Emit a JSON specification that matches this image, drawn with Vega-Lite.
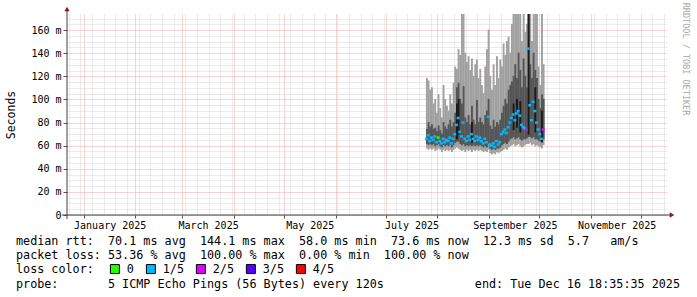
{
  "$schema": "https://vega.github.io/schema/vega-lite/v6.json",
  "width": 600,
  "height": 201,
  "autosize": {"type": "none"},
  "padding": {"left": 67, "top": 14, "right": 30, "bottom": 82},
  "background": "#ffffff",
  "config": {"view": {"stroke": null}, "font": "DejaVu Sans Mono"},
  "datasets": {
    "ping": [
      {"d":"2025-07-25T00:00:00","lo":58,"dlo":62,"med":66,"dhi":74,"hi":118,"loss":"1/5"},
      {"d":"2025-07-26T00:00:00","lo":57,"dlo":61,"med":69,"dhi":80,"hi":116,"loss":"1/5"},
      {"d":"2025-07-27T00:00:00","lo":58,"dlo":62,"med":64,"dhi":76,"hi":108,"loss":"1/5"},
      {"d":"2025-07-28T00:00:00","lo":57,"dlo":61,"med":67,"dhi":78,"hi":110,"loss":"1/5"},
      {"d":"2025-07-29T00:00:00","lo":58,"dlo":62,"med":65,"dhi":74,"hi":96,"loss":"1/5"},
      {"d":"2025-07-30T00:00:00","lo":56,"dlo":60,"med":68,"dhi":75,"hi":100,"loss":"1/5"},
      {"d":"2025-07-31T00:00:00","lo":57,"dlo":61,"med":63,"dhi":72,"hi":88,"loss":"1/5"},
      {"d":"2025-08-01T00:00:00","lo":58,"dlo":62,"med":67,"dhi":77,"hi":104,"loss":"0"},
      {"d":"2025-08-02T00:00:00","lo":57,"dlo":60,"med":64,"dhi":73,"hi":92,"loss":"1/5"},
      {"d":"2025-08-03T00:00:00","lo":55,"dlo":59,"med":62,"dhi":70,"hi":84,"loss":"1/5"},
      {"d":"2025-08-04T00:00:00","lo":57,"dlo":61,"med":66,"dhi":80,"hi":112,"loss":"1/5"},
      {"d":"2025-08-05T00:00:00","lo":56,"dlo":60,"med":63,"dhi":76,"hi":100,"loss":"1/5"},
      {"d":"2025-08-06T00:00:00","lo":57,"dlo":61,"med":65,"dhi":74,"hi":94,"loss":"1/5"},
      {"d":"2025-08-07T00:00:00","lo":56,"dlo":60,"med":64,"dhi":78,"hi":90,"loss":"1/5"},
      {"d":"2025-08-08T00:00:00","lo":57,"dlo":61,"med":67,"dhi":82,"hi":104,"loss":"1/5"},
      {"d":"2025-08-09T00:00:00","lo":55,"dlo":59,"med":62,"dhi":76,"hi":96,"loss":"1/5"},
      {"d":"2025-08-10T00:00:00","lo":57,"dlo":61,"med":66,"dhi":80,"hi":114,"loss":"1/5"},
      {"d":"2025-08-11T00:00:00","lo":58,"dlo":63,"med":70,"dhi":88,"hi":128,"loss":"1/5"},
      {"d":"2025-08-12T00:00:00","lo":59,"dlo":64,"med":78,"dhi":110,"hi":126,"blo":66,"bhi":96,"loss":"1/5"},
      {"d":"2025-08-13T00:00:00","lo":58,"dlo":64,"med":84,"dhi":114,"hi":143,"blo":70,"bhi":100,"loss":"1/5"},
      {"d":"2025-08-14T00:00:00","lo":57,"dlo":62,"med":72,"dhi":100,"hi":138,"loss":"1/5"},
      {"d":"2025-08-15T00:00:00","lo":56,"dlo":61,"med":68,"dhi":96,"hi":180,"loss":"1/5"},
      {"d":"2025-08-16T00:00:00","lo":57,"dlo":62,"med":80,"dhi":111,"hi":180,"loss":"1/5"},
      {"d":"2025-08-17T00:00:00","lo":55,"dlo":60,"med":66,"dhi":84,"hi":140,"loss":"1/5"},
      {"d":"2025-08-18T00:00:00","lo":57,"dlo":61,"med":64,"dhi":80,"hi":132,"loss":"1/5"},
      {"d":"2025-08-19T00:00:00","lo":56,"dlo":60,"med":68,"dhi":86,"hi":137,"loss":"1/5"},
      {"d":"2025-08-20T00:00:00","lo":57,"dlo":61,"med":65,"dhi":78,"hi":125,"loss":"1/5"},
      {"d":"2025-08-21T00:00:00","lo":55,"dlo":60,"med":70,"dhi":94,"hi":135,"blo":63,"bhi":80,"loss":"1/5"},
      {"d":"2025-08-22T00:00:00","lo":57,"dlo":61,"med":66,"dhi":82,"hi":120,"loss":"1/5"},
      {"d":"2025-08-23T00:00:00","lo":56,"dlo":60,"med":64,"dhi":78,"hi":130,"loss":"1/5"},
      {"d":"2025-08-24T00:00:00","lo":57,"dlo":61,"med":68,"dhi":99,"hi":134,"loss":"1/5"},
      {"d":"2025-08-25T00:00:00","lo":56,"dlo":60,"med":65,"dhi":80,"hi":118,"loss":"1/5"},
      {"d":"2025-08-26T00:00:00","lo":57,"dlo":61,"med":67,"dhi":84,"hi":126,"loss":"1/5"},
      {"d":"2025-08-27T00:00:00","lo":56,"dlo":60,"med":64,"dhi":80,"hi":112,"loss":"1/5"},
      {"d":"2025-08-28T00:00:00","lo":55,"dlo":59,"med":62,"dhi":78,"hi":105,"loss":"1/5"},
      {"d":"2025-08-29T00:00:00","lo":56,"dlo":60,"med":66,"dhi":86,"hi":128,"loss":"1/5"},
      {"d":"2025-08-30T00:00:00","lo":55,"dlo":59,"med":63,"dhi":90,"hi":143,"loss":"1/5"},
      {"d":"2025-08-31T00:00:00","lo":57,"dlo":62,"med":85,"dhi":100,"hi":160,"loss":"1/5"},
      {"d":"2025-09-01T00:00:00","lo":54,"dlo":58,"med":61,"dhi":77,"hi":120,"loss":"1/5"},
      {"d":"2025-09-02T00:00:00","lo":53,"dlo":57,"med":60,"dhi":74,"hi":108,"loss":"1/5"},
      {"d":"2025-09-03T00:00:00","lo":54,"dlo":58,"med":62,"dhi":82,"hi":130,"loss":"1/5"},
      {"d":"2025-09-04T00:00:00","lo":53,"dlo":57,"med":59,"dhi":76,"hi":112,"loss":"1/5"},
      {"d":"2025-09-05T00:00:00","lo":55,"dlo":58,"med":64,"dhi":80,"hi":137,"loss":"1/5"},
      {"d":"2025-09-06T00:00:00","lo":54,"dlo":58,"med":61,"dhi":78,"hi":118,"loss":"1/5"},
      {"d":"2025-09-07T00:00:00","lo":55,"dlo":59,"med":63,"dhi":82,"hi":134,"loss":"1/5"},
      {"d":"2025-09-08T00:00:00","lo":56,"dlo":61,"med":70,"dhi":88,"hi":128,"loss":"1/5"},
      {"d":"2025-09-09T00:00:00","lo":57,"dlo":62,"med":72,"dhi":94,"hi":148,"loss":"1/5"},
      {"d":"2025-09-10T00:00:00","lo":58,"dlo":63,"med":74,"dhi":100,"hi":138,"loss":"1/5"},
      {"d":"2025-09-11T00:00:00","lo":57,"dlo":62,"med":71,"dhi":96,"hi":150,"loss":"1/5"},
      {"d":"2025-09-12T00:00:00","lo":59,"dlo":64,"med":76,"dhi":108,"hi":154,"loss":"1/5"},
      {"d":"2025-09-13T00:00:00","lo":60,"dlo":66,"med":80,"dhi":112,"hi":140,"loss":"1/5"},
      {"d":"2025-09-14T00:00:00","lo":61,"dlo":67,"med":84,"dhi":115,"hi":165,"loss":"1/5"},
      {"d":"2025-09-15T00:00:00","lo":62,"dlo":68,"med":87,"dhi":120,"hi":180,"blo":74,"bhi":96,"loss":"1/5"},
      {"d":"2025-09-16T00:00:00","lo":60,"dlo":66,"med":82,"dhi":130,"hi":180,"loss":"1/5"},
      {"d":"2025-09-17T00:00:00","lo":61,"dlo":67,"med":88,"dhi":118,"hi":180,"blo":76,"bhi":100,"loss":"1/5"},
      {"d":"2025-09-18T00:00:00","lo":62,"dlo":68,"med":90,"dhi":140,"hi":180,"loss":"1/5"},
      {"d":"2025-09-19T00:00:00","lo":60,"dlo":66,"med":86,"dhi":125,"hi":180,"blo":72,"bhi":98,"loss":"1/5"},
      {"d":"2025-09-20T00:00:00","lo":59,"dlo":65,"med":78,"dhi":110,"hi":150,"loss":"1/5"},
      {"d":"2025-09-21T00:00:00","lo":60,"dlo":66,"med":76,"dhi":135,"hi":180,"loss":"1/5"},
      {"d":"2025-09-22T00:00:00","lo":61,"dlo":66,"med":75,"dhi":120,"hi":158,"loss":"1/5"},
      {"d":"2025-09-23T00:00:00","lo":62,"dlo":67,"med":74,"dhi":110,"hi":165,"loss":"2/5"},
      {"d":"2025-09-24T00:00:00","lo":62,"dlo":68,"med":144,"dhi":180,"hi":180,"blo":70,"bhi":180,"loss":"1/5"},
      {"d":"2025-09-25T00:00:00","lo":63,"dlo":68,"med":95,"dhi":130,"hi":180,"loss":"1/5"},
      {"d":"2025-09-26T00:00:00","lo":61,"dlo":67,"med":82,"dhi":118,"hi":150,"loss":"1/5"},
      {"d":"2025-09-27T00:00:00","lo":62,"dlo":68,"med":98,"dhi":140,"hi":180,"loss":"1/5"},
      {"d":"2025-09-28T00:00:00","lo":60,"dlo":66,"med":90,"dhi":125,"hi":180,"blo":72,"bhi":110,"loss":"1/5"},
      {"d":"2025-09-29T00:00:00","lo":61,"dlo":66,"med":80,"dhi":118,"hi":180,"loss":"1/5"},
      {"d":"2025-09-30T00:00:00","lo":60,"dlo":65,"med":74,"dhi":100,"hi":128,"loss":"1/5"},
      {"d":"2025-10-01T00:00:00","lo":59,"dlo":64,"med":70,"dhi":92,"hi":112,"loss":"1/5"},
      {"d":"2025-10-02T00:00:00","lo":58,"dlo":63,"med":66,"dhi":104,"hi":180,"blo":64,"bhi":90,"loss":"1/5"},
      {"d":"2025-10-03T00:00:00","lo":61,"dlo":66,"med":74,"dhi":100,"hi":130,"loss":"2/5"}
    ]
  },
  "data": {"name": "ping"},
  "encoding": {
    "x": {
      "field": "d", "type": "temporal", "timeUnit": "yearmonthdate", "title": null,
      "scale": {"domain": [{"year": 2024, "month": 12, "date": 22}, {"year": 2025, "month": 12, "date": 16, "hours": 18, "minutes": 35}]},
      "axis": {
        "values": [
          {"year":2024,"month":12,"date":23},{"year":2024,"month":12,"date":30},
          {"year":2025,"month":1,"date":1},{"year":2025,"month":1,"date":6},{"year":2025,"month":1,"date":13},{"year":2025,"month":1,"date":20},{"year":2025,"month":1,"date":27},
          {"year":2025,"month":2,"date":1},{"year":2025,"month":2,"date":3},{"year":2025,"month":2,"date":10},{"year":2025,"month":2,"date":17},{"year":2025,"month":2,"date":24},
          {"year":2025,"month":3,"date":1},{"year":2025,"month":3,"date":3},{"year":2025,"month":3,"date":10},{"year":2025,"month":3,"date":17},{"year":2025,"month":3,"date":24},{"year":2025,"month":3,"date":31},
          {"year":2025,"month":4,"date":1},{"year":2025,"month":4,"date":7},{"year":2025,"month":4,"date":14},{"year":2025,"month":4,"date":21},{"year":2025,"month":4,"date":28},
          {"year":2025,"month":5,"date":1},{"year":2025,"month":5,"date":5},{"year":2025,"month":5,"date":12},{"year":2025,"month":5,"date":19},{"year":2025,"month":5,"date":26},
          {"year":2025,"month":6,"date":1},{"year":2025,"month":6,"date":2},{"year":2025,"month":6,"date":9},{"year":2025,"month":6,"date":16},{"year":2025,"month":6,"date":23},{"year":2025,"month":6,"date":30},
          {"year":2025,"month":7,"date":1},{"year":2025,"month":7,"date":7},{"year":2025,"month":7,"date":14},{"year":2025,"month":7,"date":21},{"year":2025,"month":7,"date":28},
          {"year":2025,"month":8,"date":1},{"year":2025,"month":8,"date":4},{"year":2025,"month":8,"date":11},{"year":2025,"month":8,"date":18},{"year":2025,"month":8,"date":25},
          {"year":2025,"month":9,"date":1},{"year":2025,"month":9,"date":8},{"year":2025,"month":9,"date":15},{"year":2025,"month":9,"date":22},{"year":2025,"month":9,"date":29},
          {"year":2025,"month":10,"date":1},{"year":2025,"month":10,"date":6},{"year":2025,"month":10,"date":13},{"year":2025,"month":10,"date":20},{"year":2025,"month":10,"date":27},
          {"year":2025,"month":11,"date":1},{"year":2025,"month":11,"date":3},{"year":2025,"month":11,"date":10},{"year":2025,"month":11,"date":17},{"year":2025,"month":11,"date":24},
          {"year":2025,"month":12,"date":1},{"year":2025,"month":12,"date":8},{"year":2025,"month":12,"date":15}
        ],
        "labelExpr": "date(datum.value) === 1 && month(datum.value) % 2 === 0 ? timeFormat(datum.value, '%B %Y') : ''",
        "labelOffset": 26,
        "labelOverlap": false,
        "labelFlush": false,
        "labelBound": false,
        "labelFont": "DejaVu Sans Mono",
        "labelFontSize": 10,
        "labelColor": "#000000",
        "labelPadding": 2,
        "tickSize": 3,
        "tickColor": {"condition": {"test": "date(datum.value) === 1", "value": "#555555"}, "value": "transparent"},
        "grid": true,
        "gridDash": [1, 1],
        "gridColor": {"condition": {"test": "date(datum.value) === 1", "value": "#f2a8a8"}, "value": "#d6d6d6"},
        "domain": false
      }
    }
  },
  "layer": [
    {
      "mark": {"type": "bar", "color": "#a0a0a0", "stroke": "#a0a0a0", "strokeWidth": 1.2, "clip": true},
      "encoding": {
        "y": {
          "field": "lo", "type": "quantitative", "title": "Seconds",
          "scale": {"domain": [0, 174], "nice": false, "zero": false},
          "axis": {
            "values": [0,5,10,15,20,25,30,35,40,45,50,55,60,65,70,75,80,85,90,95,100,105,110,115,120,125,130,135,140,145,150,155,160,165,170],
            "labelExpr": "datum.value === 0 ? '0' : (datum.value % 20 === 0 ? datum.value + ' m' : '')",
            "labelFont": "DejaVu Sans Mono", "labelFontSize": 10, "labelColor": "#000000", "labelPadding": 2,
            "labelOverlap": false, "labelBound": false, "labelFlush": false,
            "tickSize": 4,
            "tickColor": {"condition": {"test": "datum.value % 20 === 0", "value": "#555555"}, "value": "transparent"},
            "grid": true, "gridDash": [1, 1],
            "gridColor": {"condition": {"test": "datum.value % 20 === 0", "value": "#f2a8a8"}, "value": "#d6d6d6"},
            "domain": false,
            "titleFont": "DejaVu Sans Mono", "titleFontSize": 11.5, "titleFontWeight": "normal", "titleColor": "#000000", "titlePadding": 14
          }
        },
        "y2": {"field": "hi"}
      }
    },
    {
      "mark": {"type": "bar", "color": "#555555", "stroke": "#555555", "strokeWidth": 1.2, "clip": true},
      "encoding": {
        "y": {
          "field": "dlo", "type": "quantitative", "title": "Seconds",
          "scale": {"domain": [0, 174], "nice": false, "zero": false},
          "axis": {
            "values": [0,5,10,15,20,25,30,35,40,45,50,55,60,65,70,75,80,85,90,95,100,105,110,115,120,125,130,135,140,145,150,155,160,165,170],
            "labelExpr": "datum.value === 0 ? '0' : (datum.value % 20 === 0 ? datum.value + ' m' : '')",
            "labelFont": "DejaVu Sans Mono", "labelFontSize": 10, "labelColor": "#000000", "labelPadding": 2,
            "labelOverlap": false, "labelBound": false, "labelFlush": false,
            "tickSize": 4,
            "tickColor": {"condition": {"test": "datum.value % 20 === 0", "value": "#555555"}, "value": "transparent"},
            "grid": true, "gridDash": [1, 1],
            "gridColor": {"condition": {"test": "datum.value % 20 === 0", "value": "#f2a8a8"}, "value": "#d6d6d6"},
            "domain": false,
            "titleFont": "DejaVu Sans Mono", "titleFontSize": 11.5, "titleFontWeight": "normal", "titleColor": "#000000", "titlePadding": 14
          }
        },
        "y2": {"field": "dhi"}
      }
    },
    {
      "transform": [{"filter": "datum.blo != null"}],
      "mark": {"type": "bar", "color": "#1a1a1a", "stroke": "#1a1a1a", "strokeWidth": 1.2, "clip": true},
      "encoding": {
        "y": {
          "field": "blo", "type": "quantitative", "title": "Seconds",
          "scale": {"domain": [0, 174], "nice": false, "zero": false},
          "axis": {
            "values": [0,5,10,15,20,25,30,35,40,45,50,55,60,65,70,75,80,85,90,95,100,105,110,115,120,125,130,135,140,145,150,155,160,165,170],
            "labelExpr": "datum.value === 0 ? '0' : (datum.value % 20 === 0 ? datum.value + ' m' : '')",
            "labelFont": "DejaVu Sans Mono", "labelFontSize": 10, "labelColor": "#000000", "labelPadding": 2,
            "labelOverlap": false, "labelBound": false, "labelFlush": false,
            "tickSize": 4,
            "tickColor": {"condition": {"test": "datum.value % 20 === 0", "value": "#555555"}, "value": "transparent"},
            "grid": true, "gridDash": [1, 1],
            "gridColor": {"condition": {"test": "datum.value % 20 === 0", "value": "#f2a8a8"}, "value": "#d6d6d6"},
            "domain": false,
            "titleFont": "DejaVu Sans Mono", "titleFontSize": 11.5, "titleFontWeight": "normal", "titleColor": "#000000", "titlePadding": 14
          }
        },
        "y2": {"field": "bhi"}
      }
    },
    {
      "mark": {"type": "tick", "orient": "horizontal", "size": 3, "thickness": 2.5, "opacity": 1, "clip": true},
      "encoding": {
        "x": {"field": "d", "type": "temporal", "timeUnit": "yearmonthdate", "bandPosition": 0.5, "title": null,
          "scale": {"domain": [{"year": 2024, "month": 12, "date": 22}, {"year": 2025, "month": 12, "date": 16, "hours": 18, "minutes": 35}]},
          "axis": {
            "values": [
              {"year":2024,"month":12,"date":23},{"year":2024,"month":12,"date":30},
              {"year":2025,"month":1,"date":1},{"year":2025,"month":1,"date":6},{"year":2025,"month":1,"date":13},{"year":2025,"month":1,"date":20},{"year":2025,"month":1,"date":27},
              {"year":2025,"month":2,"date":1},{"year":2025,"month":2,"date":3},{"year":2025,"month":2,"date":10},{"year":2025,"month":2,"date":17},{"year":2025,"month":2,"date":24},
              {"year":2025,"month":3,"date":1},{"year":2025,"month":3,"date":3},{"year":2025,"month":3,"date":10},{"year":2025,"month":3,"date":17},{"year":2025,"month":3,"date":24},{"year":2025,"month":3,"date":31},
              {"year":2025,"month":4,"date":1},{"year":2025,"month":4,"date":7},{"year":2025,"month":4,"date":14},{"year":2025,"month":4,"date":21},{"year":2025,"month":4,"date":28},
              {"year":2025,"month":5,"date":1},{"year":2025,"month":5,"date":5},{"year":2025,"month":5,"date":12},{"year":2025,"month":5,"date":19},{"year":2025,"month":5,"date":26},
              {"year":2025,"month":6,"date":1},{"year":2025,"month":6,"date":2},{"year":2025,"month":6,"date":9},{"year":2025,"month":6,"date":16},{"year":2025,"month":6,"date":23},{"year":2025,"month":6,"date":30},
              {"year":2025,"month":7,"date":1},{"year":2025,"month":7,"date":7},{"year":2025,"month":7,"date":14},{"year":2025,"month":7,"date":21},{"year":2025,"month":7,"date":28},
              {"year":2025,"month":8,"date":1},{"year":2025,"month":8,"date":4},{"year":2025,"month":8,"date":11},{"year":2025,"month":8,"date":18},{"year":2025,"month":8,"date":25},
              {"year":2025,"month":9,"date":1},{"year":2025,"month":9,"date":8},{"year":2025,"month":9,"date":15},{"year":2025,"month":9,"date":22},{"year":2025,"month":9,"date":29},
              {"year":2025,"month":10,"date":1},{"year":2025,"month":10,"date":6},{"year":2025,"month":10,"date":13},{"year":2025,"month":10,"date":20},{"year":2025,"month":10,"date":27},
              {"year":2025,"month":11,"date":1},{"year":2025,"month":11,"date":3},{"year":2025,"month":11,"date":10},{"year":2025,"month":11,"date":17},{"year":2025,"month":11,"date":24},
              {"year":2025,"month":12,"date":1},{"year":2025,"month":12,"date":8},{"year":2025,"month":12,"date":15}
            ],
            "labelExpr": "date(datum.value) === 1 && month(datum.value) % 2 === 0 ? timeFormat(datum.value, '%B %Y') : ''",
            "labelOffset": 26,
            "labelOverlap": false,
            "labelFlush": false,
            "labelBound": false,
            "labelFont": "DejaVu Sans Mono",
            "labelFontSize": 10,
            "labelColor": "#000000",
            "labelPadding": 2,
            "tickSize": 3,
            "tickColor": {"condition": {"test": "date(datum.value) === 1", "value": "#555555"}, "value": "transparent"},
            "grid": true,
            "gridDash": [1, 1],
            "gridColor": {"condition": {"test": "date(datum.value) === 1", "value": "#f2a8a8"}, "value": "#d6d6d6"},
            "domain": false
          }
        },
        "y": {
          "field": "med", "type": "quantitative", "title": "Seconds",
          "scale": {"domain": [0, 174], "nice": false, "zero": false},
          "axis": {
            "values": [0,5,10,15,20,25,30,35,40,45,50,55,60,65,70,75,80,85,90,95,100,105,110,115,120,125,130,135,140,145,150,155,160,165,170],
            "labelExpr": "datum.value === 0 ? '0' : (datum.value % 20 === 0 ? datum.value + ' m' : '')",
            "labelFont": "DejaVu Sans Mono", "labelFontSize": 10, "labelColor": "#000000", "labelPadding": 2,
            "labelOverlap": false, "labelBound": false, "labelFlush": false,
            "tickSize": 4,
            "tickColor": {"condition": {"test": "datum.value % 20 === 0", "value": "#555555"}, "value": "transparent"},
            "grid": true, "gridDash": [1, 1],
            "gridColor": {"condition": {"test": "datum.value % 20 === 0", "value": "#f2a8a8"}, "value": "#d6d6d6"},
            "domain": false,
            "titleFont": "DejaVu Sans Mono", "titleFontSize": 11.5, "titleFontWeight": "normal", "titleColor": "#000000", "titlePadding": 14
          }
        },
        "color": {
          "field": "loss", "type": "nominal",
          "scale": {"domain": ["0", "1/5", "2/5", "3/5", "4/5"], "range": ["#26ff00", "#00b8ff", "#dd00ff", "#5500ff", "#ff0000"]},
          "legend": {
            "orient": "none",
            "legendX": -51,
            "legendY": 249,
            "direction": "horizontal",
            "columns": 5,
            "title": "loss color:",
            "titleOrient": "left",
            "titleFont": "DejaVu Sans Mono",
            "titleFontSize": 11.75,
            "titleFontWeight": "normal",
            "titleColor": "#000000",
            "titlePadding": 15,
            "symbolType": "square",
            "symbolSize": 81,
            "symbolStrokeColor": "#000000",
            "symbolStrokeWidth": 1,
            "symbolOpacity": 1,
            "labelFont": "DejaVu Sans Mono",
            "labelFontSize": 11.75,
            "labelColor": "#000000",
            "labelOffset": 6,
            "columnPadding": 10
          }
        }
      }
    },
    {
      "data": {"values": [{}]},
      "mark": {"type": "rule", "color": "#404040", "strokeWidth": 1},
      "encoding": {"x": {"value": 0}, "y": {"value": 205}, "y2": {"value": -4}}
    },
    {
      "data": {"values": [{}]},
      "mark": {"type": "rule", "color": "#404040", "strokeWidth": 1},
      "encoding": {"x": {"value": -5}, "x2": {"value": 604}, "y": {"value": 201}}
    },
    {
      "data": {"values": [{}]},
      "mark": {"type": "point", "shape": "triangle-up", "size": 28, "filled": true, "color": "#8b1a1a", "opacity": 1},
      "encoding": {"x": {"value": 0}, "y": {"value": -5}}
    },
    {
      "data": {"values": [{}]},
      "mark": {"type": "point", "shape": "triangle-right", "size": 28, "filled": true, "color": "#8b1a1a", "opacity": 1},
      "encoding": {"x": {"value": 605}, "y": {"value": 201}}
    },
    {
      "data": {"values": [{}]},
      "mark": {"type": "text", "text": "RRDTOOL / TOBI OETIKER", "angle": 90, "align": "center", "baseline": "middle", "font": "DejaVu Sans Mono", "fontSize": 8.5, "color": "#a8a8a8"},
      "encoding": {"x": {"value": 619}, "y": {"value": 45}}
    },
    {
      "data": {"values": [{}]},
      "mark": {"type": "text", "text": "median rtt:\u00a0\u00a070.1 ms avg\u00a0\u00a0144.1 ms max\u00a0\u00a058.0 ms min\u00a0\u00a073.6 ms now\u00a0\u00a012.3 ms sd\u00a0\u00a05.7\u00a0\u00a0\u00a0am/s", "align": "left", "baseline": "middle", "font": "DejaVu Sans Mono", "fontSize": 11.75, "color": "#000000"},
      "encoding": {"x": {"value": -51}, "y": {"value": 227}}
    },
    {
      "data": {"values": [{}]},
      "mark": {"type": "text", "text": "packet loss: 53.36 % avg\u00a0\u00a0100.00 % max\u00a0\u00a00.00 % min\u00a0\u00a0100.00 % now", "align": "left", "baseline": "middle", "font": "DejaVu Sans Mono", "fontSize": 11.75, "color": "#000000"},
      "encoding": {"x": {"value": -51}, "y": {"value": 241}}
    },
    {
      "data": {"values": [{}]},
      "mark": {"type": "text", "text": "probe:\u00a0\u00a0\u00a0\u00a0\u00a0\u00a0\u00a05 ICMP Echo Pings (56 Bytes) every 120s", "align": "left", "baseline": "middle", "font": "DejaVu Sans Mono", "fontSize": 11.75, "color": "#000000"},
      "encoding": {"x": {"value": -51}, "y": {"value": 270}}
    },
    {
      "data": {"values": [{}]},
      "mark": {"type": "text", "text": "end: Tue Dec 16 18:35:35 2025", "align": "right", "baseline": "middle", "font": "DejaVu Sans Mono", "fontSize": 11.75, "color": "#000000"},
      "encoding": {"x": {"value": 613}, "y": {"value": 270}}
    }
  ]
}
